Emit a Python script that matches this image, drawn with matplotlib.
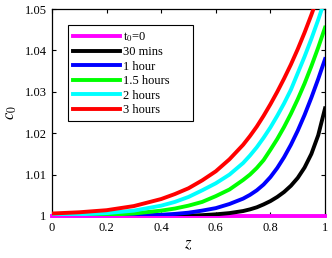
import matplotlib
matplotlib.use("Agg")
import matplotlib.pyplot as plt

plt.rcParams["font.family"] = ["Liberation Serif", "DejaVu Serif"]
plt.rcParams["mathtext.fontset"] = "stix"

# values (c0 - 1 at each z)
z = [0, 0.1, 0.2, 0.3, 0.4, 0.45, 0.5, 0.55, 0.6, 0.65, 0.7, 0.725, 0.75, 0.775,
     0.8, 0.825, 0.85, 0.875, 0.9, 0.925, 0.95, 0.975, 1.0]
d_30min = [0, 0, 0, 0, 0, 0, 0.0001, 0.0002, 0.0004, 0.0007, 0.0012, 0.0016, 0.0021, 0.0028,
           0.0036, 0.0046, 0.0058, 0.0073, 0.0092, 0.0117, 0.0150, 0.0195, 0.0260]
d_1h = [0, 0, 0.00005, 0.0001, 0.0003, 0.0005, 0.0008, 0.0013, 0.0019, 0.0029, 0.0042, 0.0051, 0.0062, 0.0076,
        0.0094, 0.0116, 0.0142, 0.0172, 0.0206, 0.0244, 0.0286, 0.0331, 0.0379]
d_15h = [0.0001, 0.0001, 0.0003, 0.0006, 0.0013, 0.0018, 0.0025, 0.0034, 0.0048, 0.0064, 0.0087, 0.0100, 0.0116, 0.0135,
         0.0160, 0.0186, 0.0215, 0.0247, 0.0282, 0.0320, 0.0362, 0.0407, 0.0455]
d_2h = [0.0003, 0.0004, 0.0007, 0.0013, 0.0025, 0.0034, 0.0046, 0.0062, 0.0079, 0.0100, 0.0128, 0.0146, 0.0166, 0.0189,
        0.0214, 0.0242, 0.0272, 0.0305, 0.0345, 0.0385, 0.0428, 0.0474, 0.0523]
d_3h = [0.0006, 0.0009, 0.0014, 0.0024, 0.0041, 0.0053, 0.0067, 0.0086, 0.0108, 0.0137, 0.0172, 0.0193, 0.0216, 0.0242,
        0.0270, 0.0300, 0.0332, 0.0366, 0.0403, 0.0443, 0.0486, 0.0532, 0.0581]

labels = ["t$_0$=0", "30 mins", "1 hour", "1.5 hours", "2 hours", "3 hours"]
colors = ["#ff00ff", "k", "#0000ff", "#00ff00", "#00ffff", "#ff0000"]
xticks = [0, 0.2, 0.4, 0.6, 0.8, 1]
xlabels = ["0", "0.2", "0.4", "0.6", "0.8", "1"]
yticks = [1, 1.01, 1.02, 1.03, 1.04, 1.05]
ylabels = ["1", "1.01", "1.02", "1.03", "1.04", "1.05"]

fig = plt.figure(figsize=(3.32, 2.58), dpi=100)
ax = fig.add_axes([0.1566, 0.1628, 0.8224, 0.8022])

lw = 2.8
ax.plot(z, [1.0] * len(z), color=colors[0], lw=lw, label=labels[0], clip_on=False, zorder=2.6)
for d, c, lab in zip([d_30min, d_1h, d_15h, d_2h, d_3h], colors[1:], labels[1:]):
    ax.plot(z, [1 + v for v in d], color=c, lw=lw, label=lab, zorder=3)

ax.set_xlim(0, 1)
ax.set_ylim(1, 1.05)
ax.set_xticks(xticks, xlabels)
ax.set_yticks(yticks, ylabels)
ax.tick_params(direction="in", top=True, right=True, length=3, width=0.8, labelsize=9, pad=4)
for s in ax.spines.values():
    s.set_linewidth(0.9)

ax.set_xlabel("$z$", fontsize=12, labelpad=2)
ax.set_ylabel("$c_0$", fontsize=12, labelpad=4)

leg = ax.legend(loc="upper left", bbox_to_anchor=(0.0586, 0.5, 0.458, 0.423), mode="expand",
                borderaxespad=0, fancybox=False, edgecolor="k", framealpha=1, fontsize=9,
                handlelength=3.8, handletextpad=0.2, labelspacing=0.2, borderpad=0.4)
leg.get_frame().set_linewidth(0.8)

plt.savefig("out.png", dpi=100)
